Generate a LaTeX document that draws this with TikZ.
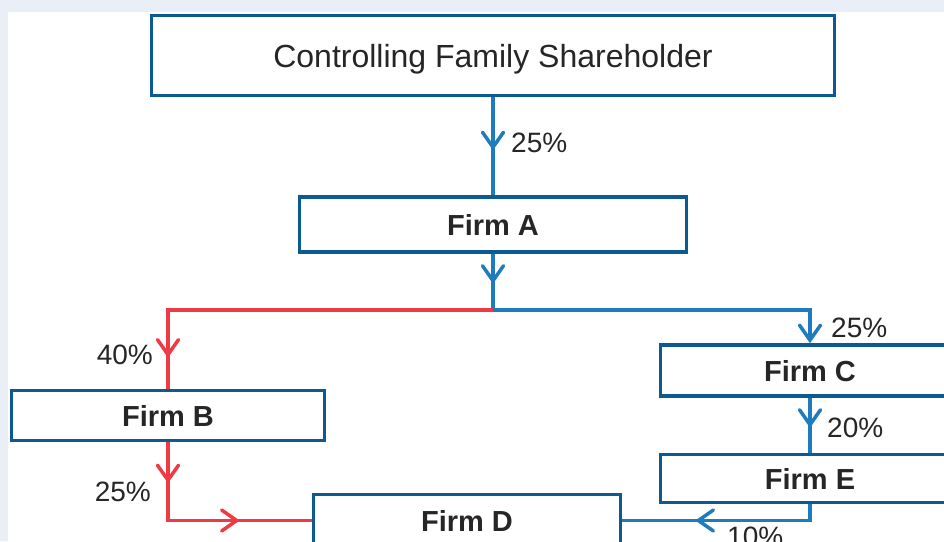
\documentclass[tikz,border=0pt]{standalone}
\usepackage{fontspec}
\setmainfont{Liberation Sans}
\usetikzlibrary{arrows.meta,decorations.markings}
\definecolor{boxblue}{RGB}{11,90,146}
\definecolor{arrowblue}{RGB}{30,123,190}
\definecolor{flowred}{RGB}{238,58,66}
\definecolor{bgpale}{RGB}{233,238,247}
\definecolor{txt}{RGB}{38,38,38}
\begin{document}
\begin{tikzpicture}[x=1pt,y=-1pt,
  firm/.style={draw=boxblue,line width=3.6pt,fill=white,inner sep=0pt,text depth=0pt,
    font=\fontsize{29}{29}\selectfont\bfseries,text=txt},
  pct/.style={inner sep=0pt,text depth=0pt,font=\fontsize{28}{28}\selectfont,text=txt},
  bline/.style={draw=arrowblue,line width=3.5pt},
  rline/.style={draw=flowred,line width=3.5pt},
  barb/.tip={Straight Barb[length=15pt,width=21pt,line cap=round]},
  tipat/.style={postaction={decorate,decoration={markings,
    mark=at position #1 with {\arrow{barb}}}}}
]
\useasboundingbox (0,0) rectangle (944,541);
\clip (0,0) rectangle (944,541);
\fill[bgpale] (0,0) rectangle (944,541);
\fill[white] (8,12) rectangle (944,541);

% boxes
\node[firm,minimum width=683pt,minimum height=80pt,font=\fontsize{32}{32}\selectfont]
  (ctrl) at (493,55.5) {Controlling Family Shareholder};
\node[firm,minimum width=387pt,minimum height=55pt] (A) at (493,224.5) {Firm A};
\node[firm,minimum width=313pt,minimum height=50pt] (B) at (168,415.5) {Firm B};
\node[firm,minimum width=299pt,minimum height=51pt] (C) at (810,370.5) {Firm C};
\node[firm,minimum width=299pt,minimum height=48pt] (E) at (810,478.5) {Firm E};
\node[firm,minimum width=307pt,minimum height=52pt] (D) at (467,520.5) {Firm D};

\coordinate (split) at (493,310);

% connectors
\draw[bline,tipat=53pt] (ctrl.south) -- (A.north);
\draw[bline,tipat=30pt] (A.south) -- (split);
\draw[rline,tipat=-31pt] (split) -| (B.north);
\draw[bline,-barb] (split) -| (C.north);
\draw[rline,tipat=41pt,tipat=-72pt] (B.south) |- (D.west);
\draw[bline,tipat=30pt] (C.south) -- (E.north);
\draw[bline,tipat=-73pt] (E.south) |- (D.east);

% labels
\node[pct,anchor=west] (p1) at (511,143) {25\%};
\node[pct,anchor=west] (p2) at (831,328) {25\%};
\node[pct,anchor=east] (p3) at (153,355) {40\%};
\node[pct,anchor=east] (p4) at (151,492) {25\%};
\node[pct,anchor=west] (p5) at (827,428) {20\%};
\node[pct,anchor=west] (p6) at (727,537) {10\%};
\end{tikzpicture}
\end{document}
